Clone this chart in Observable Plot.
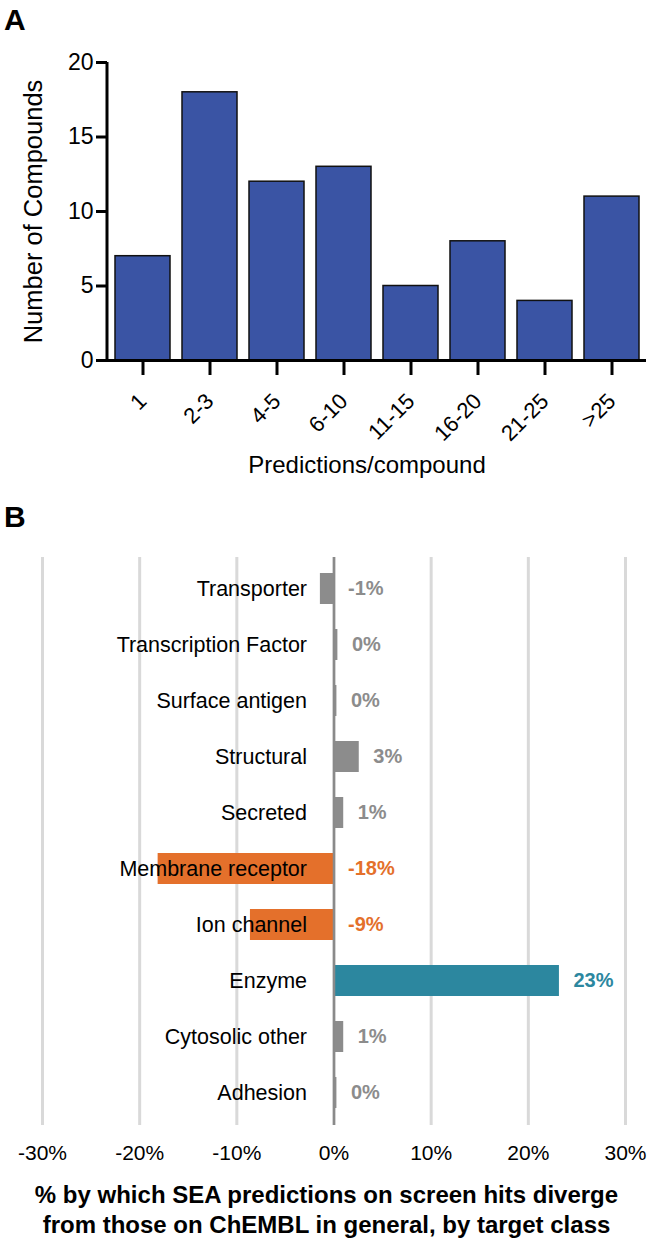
<!DOCTYPE html>
<html>
<head>
<meta charset="utf-8">
<script src="https://cdn.jsdelivr.net/npm/d3@7"></script>
<script src="https://cdn.jsdelivr.net/npm/@observablehq/plot@0.6"></script>
<style>
  html, body { margin: 0; padding: 0; background: white; }
  #wrap { position: relative; width: 653px; height: 1241px; font-family: "Liberation Sans", Arial, Helvetica, sans-serif; color: #000; }
  .panel { position: absolute; left: 0; z-index: 1; }
  .letter { position: absolute; left: 4px; font-weight: bold; font-size: 30px; line-height: 1; z-index: 5; }
  #title { position: absolute; left: 0; width: 653px; top: 1180px; text-align: center; font-weight: bold; font-size: 24px; line-height: 30px; z-index: 5; }
</style>
</head>
<body>
<div id="wrap">
  <div class="panel" id="panelA" style="top:0px"></div>
  <div class="panel" id="panelB" style="top:490px"></div>
  <div class="letter" style="top:5px">A</div>
  <div class="letter" style="top:502px">B</div>
  <div id="title">% by which SEA predictions on screen hits diverge<br>from those on ChEMBL in general, by target class</div>
</div>
<script>
// ---- Panel A data ----
const predBins = ["1", "2-3", "4-5", "6-10", "11-15", "16-20", "21-25", ">25"];
const compoundCounts = [7, 18, 12, 13, 5, 8, 4, 11];
const yTicksA = [0, 5, 10, 15, 20];
const yLabelA = "Number of Compounds";
const xLabelA = "Predictions/compound";

// ---- Panel B data ----
const targetClasses = ["Transporter", "Transcription Factor", "Surface antigen", "Structural", "Secreted",
  "Membrane receptor", "Ion channel", "Enzyme", "Cytosolic other", "Adhesion"];
const divergence = [-1.4, 0.4, 0.3, 2.6, 1.0, -18.1, -8.6, 23.2, 1.0, 0.3];
const classColors = ["#8c8c8c", "#8c8c8c", "#8c8c8c", "#8c8c8c", "#8c8c8c",
  "#e4702b", "#e4702b", "#2c879f", "#8c8c8c", "#8c8c8c"];
const xTicksB = [-30, -20, -10, 0, 10, 20, 30];

const font = '"Liberation Sans", Arial, Helvetica, sans-serif';

const dataA = predBins.map((b, i) => ({bin: b, count: compoundCounts[i]}));
const dataB = targetClasses.map((c, i) => ({cls: c, value: divergence[i], color: classColors[i]}));

// y-axis spine for panel A, drawn from the scales
function yAxisLine(index, scales, values, dims) {
  const x0 = dims.marginLeft;
  const yd = [yTicksA[0], yTicksA[yTicksA.length - 1]];
  return d3.create("svg:line")
    .attr("x1", x0).attr("x2", x0)
    .attr("y1", scales.y(yd[0]) + 1.5).attr("y2", scales.y(yd[1]))
    .attr("stroke", "#000").attr("stroke-width", 3)
    .node();
}

const plotA = Plot.plot({
  width: 653,
  height: 490,
  marginLeft: 107,
  marginRight: 7,
  marginTop: 62,
  marginBottom: 130,
  style: {fontFamily: font, fontSize: "22px", color: "#000", background: "white", overflow: "visible"},
  x: {domain: predBins, paddingInner: 0.18, paddingOuter: 0.11, label: null},
  y: {domain: [yTicksA[0], yTicksA[yTicksA.length - 1]], label: null},
  marks: [
    Plot.barY(dataA, {x: "bin", y: "count", fill: "#3a54a4", stroke: "#111", strokeWidth: 1.5}),
    Plot.ruleY([0], {stroke: "#000", strokeWidth: 3}),
    yAxisLine,
    Plot.axisY({ticks: yTicksA, tickSize: 11, tickPadding: 3, strokeWidth: 3, fontSize: 23, label: null}),
    Plot.axisX({tickSize: 15, strokeWidth: 3, tickFormat: () => "", label: null}),
    Plot.text(dataA, {x: "bin", text: "bin", frameAnchor: "bottom", rotate: -45, textAnchor: "end",
      lineAnchor: "middle", dy: 37, fontSize: 22}),
    Plot.text([yLabelA], {text: d => d, frameAnchor: "left", textAnchor: "middle", rotate: -90, dx: -74, fontSize: 25.5}),
    Plot.text([xLabelA], {text: d => d, frameAnchor: "bottom", dy: 112, dx: -10, fontSize: 24})
  ]
});
document.getElementById("panelA").appendChild(plotA);

const plotB = Plot.plot({
  width: 653,
  height: 690,
  marginLeft: 42,
  marginRight: 28,
  marginTop: 67,
  marginBottom: 55,
  style: {fontFamily: font, fontSize: "21px", color: "#000", background: "white", overflow: "visible"},
  x: {domain: [xTicksB[0], xTicksB[xTicksB.length - 1]], label: null},
  y: {domain: targetClasses, paddingInner: 0.44, paddingOuter: 0.22, axis: null},
  color: {type: "identity"},
  marks: [
    Plot.ruleX(xTicksB, {stroke: "#d9d9d9", strokeWidth: 3}),
    Plot.barX(dataB, {x: "value", y: "cls", fill: "color"}),
    Plot.ruleX([0], {stroke: "#8a8a8a", strokeWidth: 2.5}),
    Plot.text(dataB, {x: 0, y: "cls", text: "cls", textAnchor: "end", dx: -27, fontSize: 21.5, fill: "#000"}),
    Plot.text(dataB, {x: d => Math.max(0, d.value), y: "cls", text: d => Math.round(d.value) + "%",
      dx: 14, textAnchor: "start", fill: "color", fontWeight: "bold", fontSize: 20}),
    Plot.axisX({ticks: xTicksB, tickFormat: d => d + "%", tickSize: 0, tickPadding: 20, fontSize: 21, label: null})
  ]
});
document.getElementById("panelB").appendChild(plotB);
</script>
</body>
</html>
